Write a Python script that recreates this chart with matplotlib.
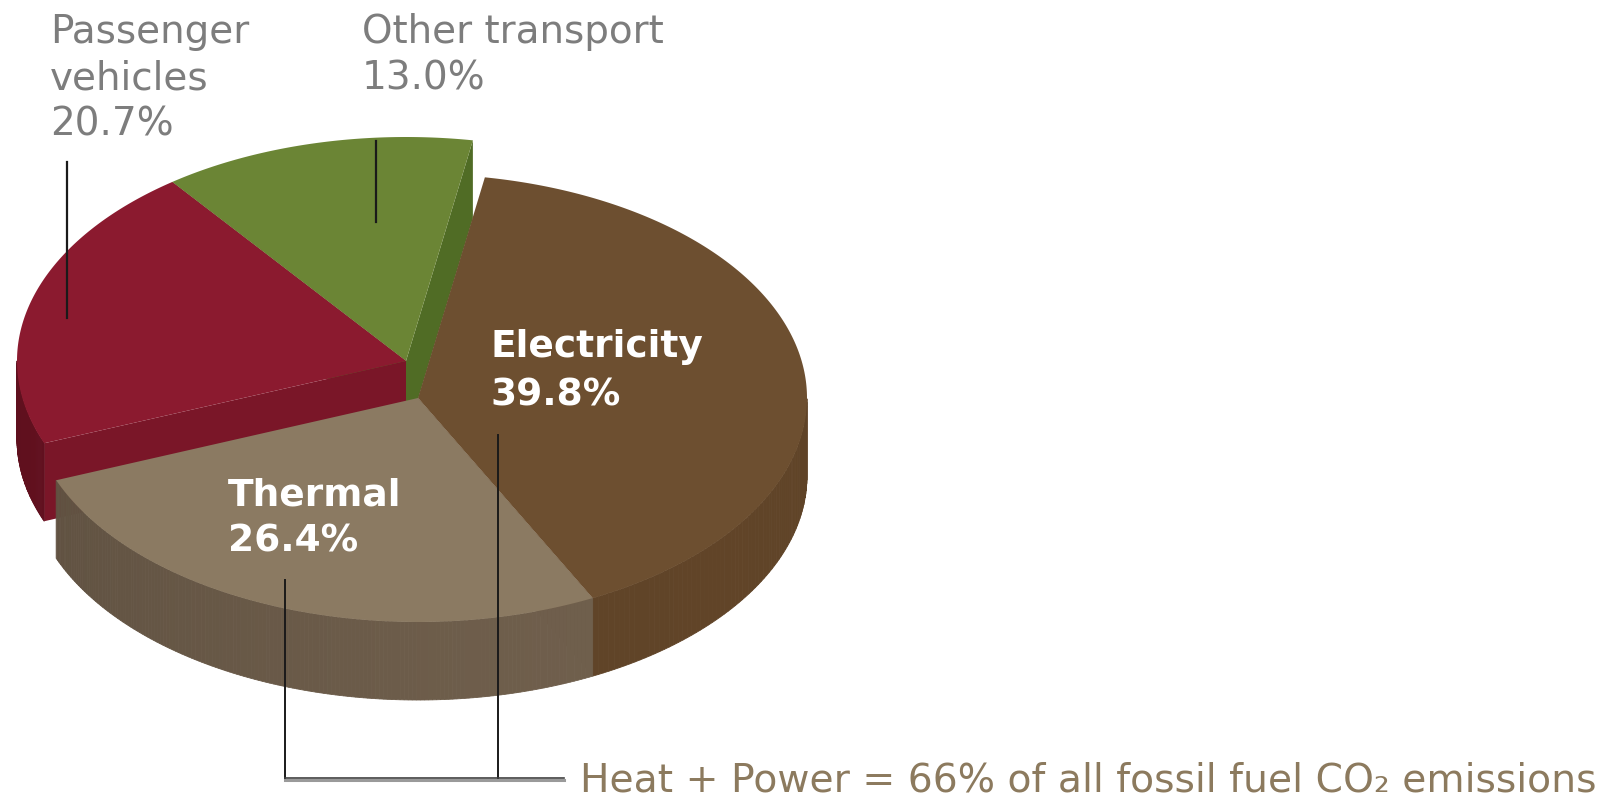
import numpy as np
import matplotlib.pyplot as plt
from matplotlib.patches import Polygon

# slice data, clockwise from the start angle
labels = ['Electricity', 'Thermal', 'Passenger\nvehicles', 'Other transport']
shares = [39.8, 26.4, 20.7, 13.0]
colors_top = ['#6d4f30', '#8b7a62', '#8b1a2f', '#6b8535']
colors_side = ['#5c4126', '#6b5b49', '#6c1222', '#4f6a24']
colors_face = ['#5a4026', '#6e5e4c', '#7a1628', '#506c25']
offsets = [(0, 0), (0, 0), (-12, -37), (-12, -37)]
note = 'Heat + Power = 66% of all fossil fuel CO\u2082 emissions'

W, H = 1623, 800
cx, cy = 418, 398
rx, ry, depth = 389, 224, 78
start = 80.1

fig = plt.figure(figsize=(W / 100, H / 100), dpi=100)
ax = fig.add_axes([0, 0, 1, 1])
ax.set_xlim(0, W)
ax.set_ylim(H, 0)
ax.axis('off')


def pt(t, ox, oy, z=0.0):
    r = np.radians(t)
    return (cx + ox + rx * np.cos(r), cy + oy - ry * np.sin(r) + z)


def shade(c, k):
    c = np.array(plt.matplotlib.colors.to_rgb(c))
    return tuple(np.clip(c * k, 0, 1))


# angle ranges (counter-clockwise lo..hi)
total = sum(shares)
spans = []
hi = start
for s in shares:
    lo = hi - s / total * 360
    spans.append((lo, hi))
    hi = lo

# back slices first
order = [3, 2, 0, 1]
for i in order:
    lo, hi = spans[i]
    ox, oy = offsets[i]
    c0 = (cx + ox, cy + oy)
    c1 = (cx + ox, cy + oy + depth)
    # radial faces
    if np.cos(np.radians(lo)) > 0:
        ax.add_patch(Polygon([c0, pt(lo, ox, oy), pt(lo, ox, oy, depth), c1],
                             closed=True, fc=colors_face[i], ec='none'))
    if np.cos(np.radians(hi)) < 0:
        ax.add_patch(Polygon([c0, pt(hi, ox, oy), pt(hi, ox, oy, depth), c1],
                             closed=True, fc=colors_face[i], ec='none'))
    # outer wall, front half only, drawn in strips
    ts = np.linspace(lo, hi, 160)
    for a, b in zip(ts[:-1], ts[1:]):
        m = (a + b) / 2
        if np.sin(np.radians(m)) >= 0:
            continue
        k = 0.85 + 0.2 * (np.cos(np.radians(m + 40)) + 1) / 2
        ax.add_patch(Polygon([pt(a, ox, oy), pt(b, ox, oy),
                              pt(b, ox, oy, depth), pt(a, ox, oy, depth)],
                             closed=True, fc=shade(colors_side[i], k),
                             ec=shade(colors_side[i], k), lw=0.6))
    # top
    arc = [pt(t, ox, oy) for t in np.linspace(lo, hi, 200)]
    ax.add_patch(Polygon([c0] + arc, closed=True, fc=colors_top[i], ec='none'))

# labels
grey = '#7d7d7d'
fs = 28
ax.text(50, 43, 'Passenger', color=grey, fontsize=fs)
ax.text(50, 89, 'vehicles', color=grey, fontsize=fs)
ax.text(50, 135, f'{shares[2]:.1f}%', color=grey, fontsize=fs)
ax.text(362, 43, 'Other transport', color=grey, fontsize=fs)
ax.text(362, 89, f'{shares[3]:.1f}%', color=grey, fontsize=fs)

ax.text(490, 357, 'Electricity', color='white', fontsize=27, fontweight='bold')
ax.text(490, 406, f'{shares[0]:.1f}%', color='white', fontsize=27, fontweight='bold')
ax.text(228, 505, 'Thermal', color='white', fontsize=27, fontweight='bold')
ax.text(228, 552, f'{shares[1]:.1f}%', color='white', fontsize=27, fontweight='bold')

# leader lines
lc = '#1a1a1a'
ax.plot([67, 67], [162, 318], color=lc, lw=1.6)
ax.plot([376, 376], [141, 222], color=lc, lw=1.6)
ax.plot([285, 285], [580, 778], color=lc, lw=1.4)
ax.plot([498, 498], [435, 778], color=lc, lw=1.4)
ax.plot([285, 564], [780, 780], color='#9a9a9a', lw=2.2)
ax.plot([285, 564], [778, 778], color='#404040', lw=1.2)

ax.text(580, 791, note, color='#8c7a5e', fontsize=28.3)

fig.savefig('out.png', dpi=100)
